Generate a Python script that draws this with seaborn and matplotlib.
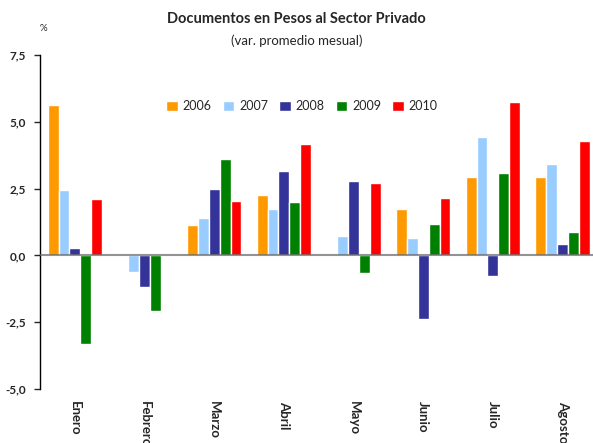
import numpy as np
import pandas as pd
import matplotlib
matplotlib.use("Agg")
import matplotlib.pyplot as plt
import seaborn as sns
from matplotlib.ticker import FuncFormatter

meses = ["Enero", "Febrero", "Marzo", "Abril", "Mayo", "Junio", "Julio", "Agosto"]
anios = ["2006", "2007", "2008", "2009", "2010"]
v2006 = [5.62, 0.03, 1.12, 2.25, 0.03, 1.72, 2.92, 2.92]
v2007 = [2.43, -0.64, 1.39, 1.72, 0.72, 0.64, 4.42, 3.41]
v2008 = [0.26, -1.20, 2.50, 3.15, 2.78, -2.40, -0.79, 0.41]
v2009 = [-3.30, -2.10, 3.60, 1.98, -0.67, 1.16, 3.07, 0.86]
v2010 = [2.10, -0.03, 2.02, 4.16, 2.70, 2.13, 5.73, 4.27]
colores = ["#FF9900", "#99CCFF", "#333399", "#008000", "#FF0000"]

series = [v2006, v2007, v2008, v2009, v2010]
df = pd.DataFrame({
    "mes": meses * len(anios),
    "anio": np.repeat(anios, len(meses)),
    "valor": np.concatenate(series),
})

sns.set_style("white")
plt.rcParams['font.family'] = ['Lato', 'DejaVu Sans']

fig = plt.figure(figsize=(5.93, 4.43), dpi=100)
ax = fig.add_axes([0.0675, 0.122, 0.94, 0.754])

sns.barplot(data=df, x="mes", y="valor", hue="anio", palette=colores,
            width=0.78, saturation=1, ax=ax, errorbar=None)

# linea del cero por encima de las barras, semitransparente
ax.axhline(0, color="#666666", lw=1.5, alpha=0.7, zorder=3)
ax.set_ylim(-5, 7.5)
ax.set_yticks([-5, -2.5, 0, 2.5, 5, 7.5])
ax.yaxis.set_major_formatter(FuncFormatter(lambda v, p: f"{v:.1f}".replace(".", ",")))
ax.set_xlim(-0.5, 7.5)
for s in ["top", "right", "bottom"]:
    ax.spines[s].set_visible(False)
ax.spines["left"].set_color("black")
ax.spines["left"].set_linewidth(1)
ax.tick_params(axis="y", left=True, length=4, width=1, labelsize=8.5, pad=6)
ax.tick_params(axis="x", bottom=False, labelsize=9.5, pad=5)
for lab in ax.get_yticklabels():
    lab.set_fontweight("bold")
for lab in ax.get_xticklabels():
    lab.set_fontweight("bold")
    lab.set_rotation(-90)
    lab.set_va("top")
ax.set_xlabel("")
ax.set_ylabel("")

leg = ax.legend(loc="center", bbox_to_anchor=(0.47, 0.847), ncol=5, frameon=False,
                fontsize=9, handlelength=0.9, handleheight=0.9, handletextpad=0.4,
                columnspacing=0.9)

fig.text(0.5, 0.957, "Documentos en Pesos al Sector Privado", ha="center", va="center",
         fontsize=10.5, fontweight="bold")
fig.text(0.5, 0.908, "(var. promedio mesual)", ha="center", va="center", fontsize=9.5)
fig.text(0.073, 0.935, "%", ha="center", va="center", fontsize=7)

fig.savefig("out.png", dpi=100)
